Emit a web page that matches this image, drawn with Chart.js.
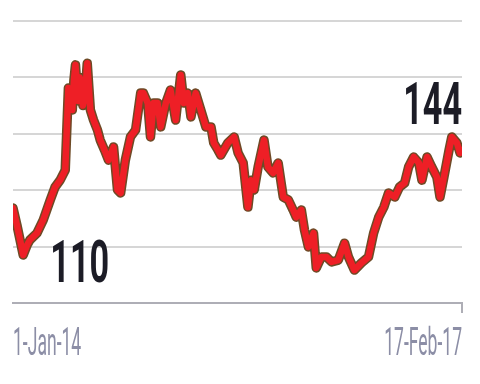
<!DOCTYPE html>
<html>
<head>
<meta charset="utf-8">
<script src="https://cdn.jsdelivr.net/npm/chart.js@4.4.1/dist/chart.umd.min.js"></script>
<style>
  html, body { margin: 0; padding: 0; background: #ffffff; }
  #wrap { width: 480px; height: 384px; }
</style>
</head>
<body>
<div id="wrap"><canvas id="priceChart" width="480" height="384"></canvas></div>
<script>
// ================================================================
//  DATOS (días desde 1-Jan-14, valor)
// ================================================================
const dias = [0, 10, 26, 36, 43, 61, 77, 95, 107, 120, 133, 141, 146, 151, 155, 159, 163, 166, 170, 174, 178, 182, 186, 189, 197, 205,
    215, 222, 233, 243, 256, 266, 274, 286, 299, 312, 325, 332, 343, 350, 358, 368, 376, 389, 401, 414,
    427, 435, 445, 453, 465, 478, 491, 504, 511, 522, 529, 547, 563, 573, 586, 598, 606, 614, 624, 639,
    649, 662, 675, 688, 701, 713, 721, 734, 742, 752, 765, 772, 785, 798, 811, 828, 844, 854, 869, 887,
    905, 918, 931, 944, 956, 972, 984, 997, 1007, 1020, 1033, 1041, 1054, 1066, 1079, 1087, 1097, 1110, 1117, 1130,
    1138, 1143];
const valores = [124.3, 118.9, 109.3, 112.5, 114.1, 116.3, 120.5, 126.9, 131.0, 133.2, 136.4, 162.6, 158.0, 155.6, 165.0, 170.0, 163.0, 158.5, 166.0, 162.0, 157.0, 159.5, 165.0, 170.5, 155.6, 152.4,
    149.2, 146.0, 142.8, 139.6, 143.8, 130.1, 129.1, 139.6, 147.0, 149.2, 161.0, 161.0, 157.8, 147.0, 157.8, 157.8, 150.2, 157.8, 162.0, 152.4,
    166.8, 157.8, 161.0, 153.4, 161.0, 155.6, 150.2, 150.2, 145.1, 142.8, 141.2, 145.1, 147.0, 141.9, 138.7, 124.6, 133.2, 130.1, 137.4, 146.0,
    137.4, 135.5, 138.7, 127.8, 126.9, 123.7, 121.4, 123.7, 117.3, 111.9, 116.3, 105.2, 108.7, 108.7, 107.1, 107.7, 113.1, 108.7, 104.5, 106.8,
    108.7, 116.3, 121.4, 124.6, 129.1, 127.8, 131.0, 132.3, 137.4, 140.6, 138.7, 133.2, 140.6, 137.4, 134.2, 127.8, 134.2, 142.8, 147.0, 145.1,
    141.9, 142.8];

const etiquetasX = ['1-Jan-14', '17-Feb-17'];
const yMin = 94, yMax = 184, yPaso = 18;

// anotaciones: texto, día, valor (línea base)
const notasTexto = ['110', '144'];
const notasDia = [95, 1143];
const notasValor = [100.7, 151.1];
const notasAlign = ['left', 'right'];

const puntos = dias.map((d, i) => ({ x: d, y: valores[i] }));

// ================================================================
//  PLUGIN DE TEXTOS CONDENSADOS
// ================================================================
const textosPlugin = {
    id: 'textos',
    afterDraw(chart) {
        const ctx = chart.ctx;
        const xs = chart.scales.x;
        const ys = chart.scales.y;

        // Números grandes
        ctx.save();
        ctx.fillStyle = '#1c1c26';
        ctx.font = 'bold 60px Roboto';
        ctx.textBaseline = 'alphabetic';
        notasTexto.forEach((t, i) => {
            ctx.save();
            ctx.translate(xs.getPixelForValue(notasDia[i]), ys.getPixelForValue(notasValor[i]));
            ctx.scale(0.57, 1);
            ctx.textAlign = notasAlign[i];
            ctx.fillText(t, 0, 0);
            ctx.restore();
        });
        ctx.restore();

        // Etiquetas del eje X
        ctx.save();
        ctx.fillStyle = '#8c8ea6';
        ctx.font = '39px Roboto';
        const base = chart.chartArea.bottom + 52;
        const extremos = [xs.min, xs.max];
        etiquetasX.forEach((t, i) => {
            ctx.save();
            ctx.translate(xs.getPixelForValue(extremos[i]), base);
            ctx.scale(0.45, 1);
            ctx.textAlign = i === 0 ? 'left' : 'right';
            ctx.fillText(t, 0, 0);
            ctx.restore();
        });
        ctx.restore();
    }
};

// ================================================================
//  GRÁFICO
// ================================================================
const ctxPrice = document.getElementById('priceChart').getContext('2d');
new Chart(ctxPrice, {
    type: 'line',
    data: {
        datasets: [{
            // línea roja (encima)
            data: puntos,
            borderColor: '#ee1f26',
            borderWidth: 6.5,
            pointRadius: 0,
            tension: 0,
            borderJoinStyle: 'round',
            borderCapStyle: 'round',
            order: 1
        }, {
            // borde oscuro (debajo)
            data: puntos,
            borderColor: '#6e4a26',
            borderWidth: 9.5,
            pointRadius: 0,
            tension: 0,
            borderJoinStyle: 'round',
            borderCapStyle: 'round',
            order: 2
        }]
    },
    options: {
        responsive: false,
        animation: false,
        events: [],
        layout: { padding: { left: 13, right: 18, top: 21, bottom: 71 } },
        plugins: {
            legend: { display: false },
            tooltip: { enabled: false }
        },
        scales: {
            x: {
                type: 'linear',
                min: 0,
                max: dias[dias.length - 1],
                afterBuildTicks: (axis) => { axis.ticks = [{ value: axis.min }, { value: axis.max }]; },
                ticks: { display: false },
                border: { display: true, color: '#aeaeb6', width: 2 },
                grid: {
                    drawOnChartArea: false,
                    drawTicks: true,
                    tickLength: 10,
                    lineWidth: 2,
                    color: (c) => c.index === 0 ? 'rgba(0,0,0,0)' : '#aeaeb6'
                }
            },
            y: {
                min: yMin,
                max: yMax,
                ticks: { display: false, stepSize: yPaso },
                border: { display: false },
                grid: { color: '#d6d6d6', lineWidth: 2, drawTicks: false }
            }
        }
    },
    plugins: [textosPlugin]
});
</script>
</body>
</html>
